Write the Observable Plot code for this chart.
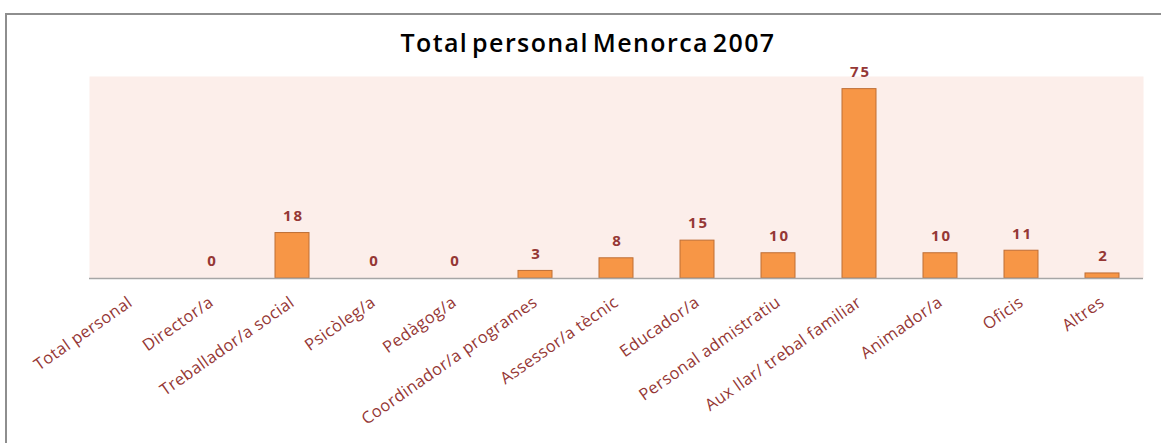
<!DOCTYPE html>
<html>
<head>
<meta charset="utf-8">
<script src="https://cdn.jsdelivr.net/npm/d3@7"></script>
<script src="https://cdn.jsdelivr.net/npm/@observablehq/plot@0.6"></script>
<style>
  html, body { margin: 0; padding: 0; background: #fff; width: 1161px; height: 443px; overflow: hidden; }
  #frame { position: absolute; left: 5px; top: 13px; width: 1200px; height: 500px;
           border-left: 2px solid #8e8e8e; border-top: 2px solid #8e8e8e; }
  #title { position: absolute; top: 25px; left: 0; width: 1176px; text-align: center;
           font-family: "Open Sans", Lato, sans-serif; font-weight: 600; font-size: 25px;
           letter-spacing: 1.4px; word-spacing: -4px; color: #000; }
  #chart { position: absolute; left: 0; top: 0; }
  #chart .xlab text { font-size: 16.5px; letter-spacing: 0.4px; }
  #chart .vals text { letter-spacing: 2px; }
</style>
</head>
<body>
<div id="frame"></div>
<div id="chart"></div>
<div id="title">Total personal Menorca 2007</div>
<script>
const categories = ["Total personal", "Director/a", "Treballador/a social", "Psicòleg/a", "Pedàgog/a",
  "Coordinador/a programes", "Assessor/a tècnic", "Educador/a", "Personal admistratiu",
  "Aux llar/ trebal familiar", "Animador/a", "Oficis", "Altres"];
const values = [null, 0, 18, 0, 0, 3, 8, 15, 10, 75, 10, 11, 2];

const data = categories.map((c, i) => ({cat: c, value: values[i]}));
const labelColor = "#953735";

const chart = Plot.plot({
  width: 1161,
  height: 443,
  marginTop: 76,
  marginBottom: 165,
  marginLeft: 89,
  marginRight: 18,
  style: {fontFamily: "'Open Sans', Lato, sans-serif", fontSize: "16.5px", background: "transparent"},
  x: {domain: categories, paddingInner: 0.58, paddingOuter: 0.29, label: null},
  y: {domain: [0, 80], axis: null},
  marks: [
    Plot.frame({fill: "#FCEEEA", stroke: null}),
    Plot.barY(data.filter(d => d.value != null), {x: "cat", y: "value", fill: "#F79646", stroke: "#BE6E35", strokeWidth: 1}),
    Plot.text(data.filter(d => d.value != null), {x: "cat", y: "value", text: d => String(d.value), dy: -17, dx: 1,
      fill: labelColor, fontSize: 15, fontWeight: "bold", className: "vals"}),
    Plot.ruleY([0], {stroke: "#a6a6a6", strokeWidth: 1.5}),
    Plot.axisX({tickSize: 0, tickRotate: -35, tickPadding: 22, fontSize: 16.5, fill: labelColor, label: null, className: "xlab"})
  ]
});
document.getElementById("chart").appendChild(chart);
</script>
</body>
</html>
